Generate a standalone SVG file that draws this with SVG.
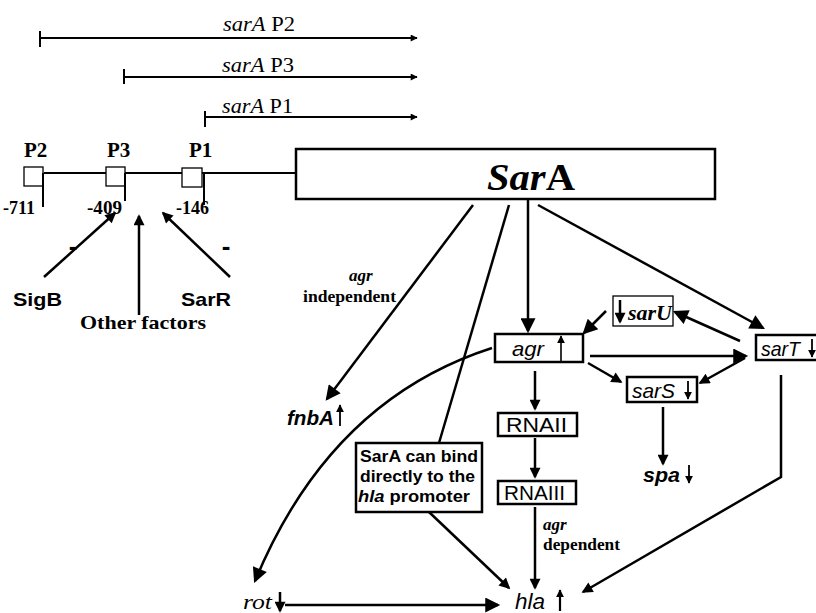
<svg xmlns="http://www.w3.org/2000/svg" width="816" height="613" viewBox="0 0 816 613">
<defs>
<marker id="big" viewBox="0 0 10 10" refX="8.5" refY="5" markerWidth="17" markerHeight="15" markerUnits="userSpaceOnUse" orient="auto"><path d="M0,0 L10,5 L0,10 z" fill="#000"/></marker>
<marker id="med" viewBox="0 0 10 10" refX="8.5" refY="5" markerWidth="13" markerHeight="11" markerUnits="userSpaceOnUse" orient="auto"><path d="M0,0 L10,5 L0,10 z" fill="#000"/></marker>
<marker id="sm" viewBox="0 0 10 10" refX="9" refY="5" markerWidth="10" markerHeight="7" markerUnits="userSpaceOnUse" orient="auto"><path d="M0,0 L10,5 L0,10 z" fill="#000"/></marker>
<marker id="tiny" viewBox="0 0 10 10" refX="9" refY="5" markerWidth="8" markerHeight="8" markerUnits="userSpaceOnUse" orient="auto"><path d="M0,0 L10,5 L0,10 z" fill="#000"/></marker>
</defs>
<style>
.ln{stroke:#000;stroke-width:2.5;fill:none}
.th{stroke:#000;stroke-width:2;fill:none}
.bx{stroke:#000;stroke-width:2.5;fill:#fff}
.bxt{stroke:#000;stroke-width:1.3;fill:#fff}
.serif{font-family:"Liberation Serif","Times New Roman",serif;fill:#000}
.sans{font-family:"Liberation Sans",Arial,sans-serif;fill:#000}
.b{font-weight:bold}
.i{font-style:italic}
</style>
<rect width="816" height="613" fill="#fff"/>

<g id="transcripts">
<line class="th" x1="40" y1="38" x2="417" y2="38" marker-end="url(#sm)"/>
<line class="th" x1="40" y1="31" x2="40" y2="47"/>
<text class="serif" x="223" y="31" font-size="20" textLength="72" lengthAdjust="spacingAndGlyphs"><tspan class="i">sarA</tspan> P2</text>
<line class="th" x1="124" y1="77" x2="417" y2="77" marker-end="url(#sm)"/>
<line class="th" x1="124" y1="69" x2="124" y2="84"/>
<text class="serif" x="222" y="72" font-size="20" textLength="72" lengthAdjust="spacingAndGlyphs"><tspan class="i">sarA</tspan> P3</text>
<line class="th" x1="205" y1="117" x2="417" y2="117" marker-end="url(#sm)"/>
<line class="th" x1="205" y1="111" x2="205" y2="127"/>
<text class="serif" x="222" y="113" font-size="20" textLength="71" lengthAdjust="spacingAndGlyphs"><tspan class="i">sarA</tspan> P1</text>
</g>

<g id="promoter">
<line class="th" x1="44" y1="173" x2="106" y2="173"/>
<line class="th" x1="125" y1="173" x2="182" y2="173"/>
<line class="th" x1="202" y1="173" x2="296" y2="173"/>
<rect class="bxt" x="24" y="167" width="19" height="19"/>
<rect class="bxt" x="106" y="167" width="19" height="19"/>
<rect class="bxt" x="182" y="168" width="20" height="19"/>
<line class="th" x1="43" y1="173" x2="43" y2="207"/>
<line class="th" x1="125" y1="173" x2="125" y2="201"/>
<line class="th" x1="204" y1="173" x2="204" y2="205"/>
<text class="serif b" x="24" y="157" font-size="21">P2</text>
<text class="serif b" x="107" y="157" font-size="21">P3</text>
<text class="serif b" x="189" y="157" font-size="21">P1</text>
<text class="serif b" x="3" y="214" font-size="18">-711</text>
<text class="serif b" x="87" y="214" font-size="18" textLength="35" lengthAdjust="spacingAndGlyphs">-409</text>
<text class="serif b" x="176" y="214" font-size="18" textLength="33" lengthAdjust="spacingAndGlyphs">-146</text>
</g>

<g id="SigB">
<text class="sans b" x="13" y="306" font-size="19" textLength="49" lengthAdjust="spacingAndGlyphs">SigB</text>
<text class="sans b" x="73" y="255" font-size="26" text-anchor="middle">-</text>
</g>
<g id="other-factors">
<text class="serif b" x="80" y="329" font-size="19" textLength="126" lengthAdjust="spacingAndGlyphs">Other factors</text>
</g>
<g id="SarR">
<text class="sans b" x="181" y="306" font-size="19" textLength="50" lengthAdjust="spacingAndGlyphs">SarR</text>
<text class="sans b" x="226" y="255" font-size="26" text-anchor="middle">-</text>
</g>

<g id="SarA">
<rect class="bx" x="296" y="149" width="419" height="50"/>
<text class="serif b" x="487" y="190" font-size="38" textLength="88" lengthAdjust="spacingAndGlyphs"><tspan class="i">Sar</tspan>A</text>
</g>

<g id="agr">
<rect class="bx" x="495" y="334" width="88" height="28"/>
<text class="sans i" x="512" y="356" font-size="21" textLength="32" lengthAdjust="spacingAndGlyphs">agr</text>
<line stroke="#000" stroke-width="1.6" x1="561" y1="362" x2="561" y2="336" marker-end="url(#tiny)"/>
</g>

<g id="sarU">
<rect class="bxt" x="613" y="296" width="60" height="30"/>
<line stroke="#000" stroke-width="2.5" x1="620" y1="300" x2="620" y2="322" marker-end="url(#med)"/>
<text class="serif b i" x="628" y="320" font-size="20" textLength="44" lengthAdjust="spacingAndGlyphs">sarU</text>
</g>

<g id="sarS">
<rect class="bx" x="627" y="377" width="70" height="25"/>
<text class="sans i" x="632" y="398" font-size="21" textLength="43" lengthAdjust="spacingAndGlyphs">sarS</text>
<line stroke="#000" stroke-width="1.8" x1="688" y1="381" x2="688" y2="399" marker-end="url(#tiny)"/>
</g>

<g id="sarT">
<rect class="bx" x="756" y="335" width="70" height="25"/>
<text class="sans i" x="761" y="356" font-size="21" textLength="39" lengthAdjust="spacingAndGlyphs">sarT</text>
<line stroke="#000" stroke-width="1.8" x1="812" y1="339" x2="812" y2="357" marker-end="url(#tiny)"/>
</g>

<g id="RNAII">
<rect class="bx" x="498" y="413" width="79" height="23"/>
<text class="sans" x="506" y="432" font-size="20" textLength="61" lengthAdjust="spacingAndGlyphs">RNAII</text>
</g>

<g id="RNAIII">
<rect class="bx" x="498" y="481" width="78" height="23"/>
<text class="sans" x="504" y="500" font-size="20" textLength="61" lengthAdjust="spacingAndGlyphs">RNAIII</text>
</g>

<g id="spa">
<text class="sans b i" x="643" y="482" font-size="20" textLength="37" lengthAdjust="spacingAndGlyphs">spa</text>
<line stroke="#000" stroke-width="1.8" x1="689" y1="465" x2="689" y2="483" marker-end="url(#tiny)"/>
</g>

<g id="fnbA">
<text class="sans b i" x="287" y="425" font-size="20" textLength="47" lengthAdjust="spacingAndGlyphs">fnbA</text>
<line stroke="#000" stroke-width="1.8" x1="340" y1="426" x2="340" y2="405" marker-end="url(#tiny)"/>
</g>

<g id="rot">
<text class="serif i" x="243" y="609" font-size="20" textLength="29" lengthAdjust="spacingAndGlyphs">rot</text>
<line stroke="#000" stroke-width="2.5" x1="280" y1="592" x2="280" y2="611" marker-end="url(#med)"/>
</g>

<g id="hla">
<text class="sans i" x="515" y="609" font-size="22" textLength="30" lengthAdjust="spacingAndGlyphs">hla</text>
<line stroke="#000" stroke-width="2.2" x1="560" y1="611" x2="560" y2="590" marker-end="url(#tiny)"/>
</g>

<g id="binding-note">
<rect class="bx" x="356" y="443" width="126" height="69"/>
<text class="sans b" x="360" y="462" font-size="16.5" textLength="118" lengthAdjust="spacingAndGlyphs">SarA can bind</text>
<text class="sans b" x="360" y="482" font-size="16.5" textLength="115" lengthAdjust="spacingAndGlyphs">directly to the</text>
<text class="sans b" x="358" y="502" font-size="16.5" textLength="112" lengthAdjust="spacingAndGlyphs"><tspan class="i">hla</tspan> promoter</text>
</g>

<g id="labels">
<text class="serif b i" x="349" y="281" font-size="17">agr</text>
<text class="serif b" x="303" y="302" font-size="17.5" textLength="93" lengthAdjust="spacingAndGlyphs">independent</text>
<text class="serif b i" x="543" y="530" font-size="17">agr</text>
<text class="serif b" x="543" y="550" font-size="17.5" textLength="77" lengthAdjust="spacingAndGlyphs">dependent</text>
</g>

<g id="connectors">
<line class="ln" x1="44" y1="277" x2="115" y2="213" marker-end="url(#med)"/>
<line class="ln" x1="139" y1="315" x2="139" y2="216" marker-end="url(#med)"/>
<line class="ln" x1="230" y1="277" x2="163" y2="213" marker-end="url(#med)"/>
<line class="ln" x1="473" y1="205" x2="327" y2="399" marker-end="url(#big)"/>
<line class="ln" x1="509" y1="205" x2="439" y2="443"/>
<line class="ln" x1="528" y1="199" x2="528" y2="331" marker-end="url(#big)"/>
<line class="ln" x1="538" y1="205" x2="763" y2="328" marker-end="url(#big)"/>
<line class="ln" x1="606" y1="311" x2="584" y2="333" marker-end="url(#big)"/>
<line class="ln" x1="740" y1="341" x2="675" y2="312" marker-end="url(#big)"/>
<line class="ln" x1="590" y1="356" x2="746" y2="356" marker-end="url(#big)"/>
<line class="ln" x1="588" y1="363" x2="621" y2="382" marker-end="url(#med)"/>
<line class="ln" x1="745" y1="358" x2="700" y2="383" marker-end="url(#med)"/>
<line class="ln" x1="535" y1="371" x2="535" y2="409" marker-end="url(#med)"/>
<line class="ln" x1="535" y1="438" x2="535" y2="477" marker-end="url(#med)"/>
<line class="ln" x1="535" y1="507" x2="535" y2="588" marker-end="url(#med)"/>
<line class="ln" x1="663" y1="407" x2="663" y2="464" marker-end="url(#med)"/>
<polyline class="ln" points="781,375 781,477 583,592" marker-end="url(#med)"/>
<line class="ln" x1="429" y1="512" x2="509" y2="588" marker-end="url(#med)"/>
<path class="ln" d="M492,348 Q330,400 255,581" marker-end="url(#big)"/>
<line class="ln" x1="285" y1="605" x2="498" y2="605" marker-end="url(#big)"/>
</g>
</svg>
